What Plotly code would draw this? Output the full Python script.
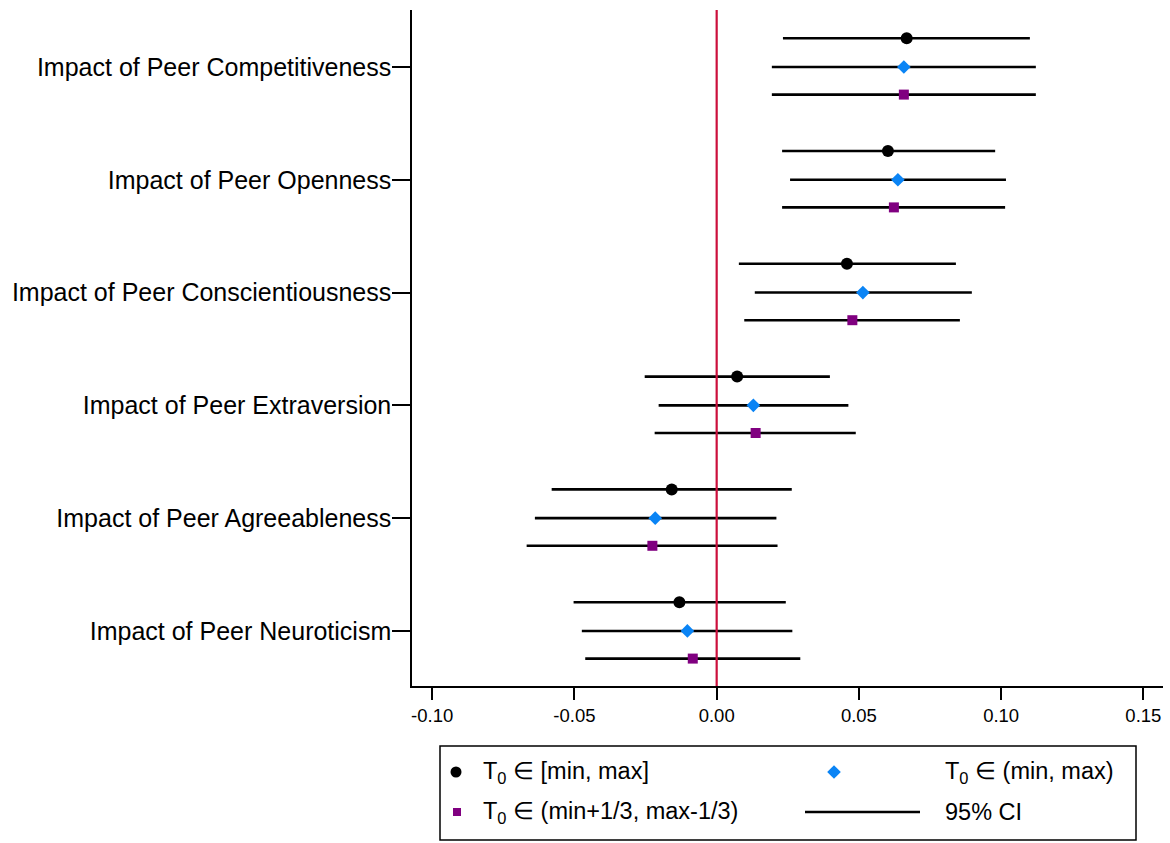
import plotly.graph_objects as go

categories = [
    "Impact of Peer Competitiveness",
    "Impact of Peer Openness",
    "Impact of Peer Conscientiousness",
    "Impact of Peer Extraversion",
    "Impact of Peer Agreeableness",
    "Impact of Peer Neuroticism",
]

# Point estimates and 95% CI bounds, one list per specification
full_est = [0.0668, 0.0602, 0.0458, 0.0072, -0.0158, -0.0131]
full_lo = [0.0233, 0.0230, 0.0078, -0.0253, -0.0580, -0.0503]
full_hi = [0.1101, 0.0979, 0.0841, 0.0398, 0.0264, 0.0243]

open_est = [0.0658, 0.0637, 0.0514, 0.0129, -0.0216, -0.0103]
open_lo = [0.0194, 0.0258, 0.0134, -0.0204, -0.0639, -0.0474]
open_hi = [0.1122, 0.1017, 0.0897, 0.0463, 0.0210, 0.0266]

trim_est = [0.0658, 0.0623, 0.0477, 0.0137, -0.0226, -0.0084]
trim_lo = [0.0194, 0.0230, 0.0097, -0.0218, -0.0668, -0.0462]
trim_hi = [0.1122, 0.1014, 0.0855, 0.0489, 0.0214, 0.0294]

x_ticks = [-0.10, -0.05, 0.00, 0.05, 0.10, 0.15]
x_tick_text = ["-0.10", "-0.05", "0.00", "0.05", "0.10", "0.15"]

legend_labels = [
    "T<sub>0</sub> ∈ [min, max]",
    "T<sub>0</sub> ∈ (min, max)",
    "T<sub>0</sub> ∈ (min+1/3, max-1/3)",
    "95% CI",
]

FONT = "Liberation Sans, Arial, sans-serif"
BLACK = "#000000"
BLUE = "#0A84F5"
PURPLE = "#800080"
RED = "#CC0F3C"

W, H = 1170, 843
M_L, M_R, M_T, M_B = 412, 7, 10, 0
PW, PH = W - M_L - M_R, H - M_T - M_B


def py(pix):
    """screen y pixel -> paper fraction"""
    return 1 - (pix - M_T) / PH


specs = [
    (full_est, full_lo, full_hi, -0.255, "circle", 12, BLACK),
    (open_est, open_lo, open_hi, 0.0, "diamond", 10.5, BLUE),
    (trim_est, trim_lo, trim_hi, 0.245, "square", 10, PURPLE),
]

fig = go.Figure()
for est, lo, hi, off, sym, size, col in specs:
    ys = [i + off for i in range(len(categories))]
    fig.add_trace(go.Scatter(
        x=est, y=ys, mode="markers",
        marker=dict(symbol=sym, size=size, color=col, line=dict(width=0)),
        error_x=dict(
            type="data", symmetric=False,
            array=[h - e for h, e in zip(hi, est)],
            arrayminus=[e - l for e, l in zip(est, lo)],
            color=BLACK, thickness=2.6, width=0,
        ),
        showlegend=False, xaxis="x", yaxis="y",
    ))

# zero reference line
fig.add_shape(type="line", xref="x", yref="y domain", x0=0, x1=0, y0=0, y1=1,
              line=dict(color=RED, width=2.2), layer="above")

# ---- key below the plot, drawn on its own pixel-scaled axes ----
LEG_TOP, LEG_BOT = 746, 840
ROW1, ROW2 = 772, 812
fig.add_trace(go.Scatter(x=[456], y=[ROW1], mode="markers", xaxis="x2", yaxis="y2",
                         marker=dict(symbol="circle", size=11, color=BLACK), showlegend=False))
fig.add_trace(go.Scatter(x=[834], y=[ROW1], mode="markers", xaxis="x2", yaxis="y2",
                         marker=dict(symbol="diamond", size=10.5, color=BLUE), showlegend=False))
fig.add_trace(go.Scatter(x=[457], y=[ROW2], mode="markers", xaxis="x2", yaxis="y2",
                         marker=dict(symbol="square", size=8, color=PURPLE), showlegend=False))
fig.add_trace(go.Scatter(x=[805, 920], y=[ROW2, ROW2], mode="lines", xaxis="x2", yaxis="y2",
                         line=dict(color=BLACK, width=2.6), showlegend=False))

fig.add_shape(type="rect", xref="x2", yref="y2", x0=440, x1=1136, y0=LEG_TOP, y1=LEG_BOT,
              line=dict(color=BLACK, width=1.5), fillcolor="rgba(0,0,0,0)")

for txt, x, y in [(legend_labels[0], 481, ROW1), (legend_labels[1], 943, ROW1),
                  (legend_labels[2], 481, ROW2), (legend_labels[3], 943, ROW2)]:
    fig.add_annotation(text=txt, xref="x2", yref="y2", x=x, y=y, xanchor="left",
                       yanchor="middle", showarrow=False,
                       font=dict(family=FONT, size=23.5, color=BLACK))

main_bottom = py(686)

fig.update_layout(
    width=W, height=H,
    margin=dict(l=M_L, r=M_R, t=M_T, b=M_B, pad=0),
    paper_bgcolor="white", plot_bgcolor="white",
    font=dict(family=FONT, color=BLACK),
    xaxis=dict(
        domain=[0, 1], anchor="y",
        range=[-0.1071, 0.1569],
        tickvals=x_ticks, ticktext=x_tick_text,
        ticks="outside", ticklen=12, tickwidth=1.5, tickcolor=BLACK,
        showline=True, linecolor=BLACK, linewidth=1.5,
        showgrid=False, zeroline=False,
        tickfont=dict(family=FONT, size=18.5, color=BLACK),
    ),
    yaxis=dict(
        domain=[main_bottom, 1], anchor="x",
        range=[5.488, -0.505],
        tickvals=list(range(len(categories))), ticktext=categories,
        ticks="outside", ticklen=18, tickwidth=1.5, tickcolor=BLACK,
        ticklabelstandoff=-4,
        showline=True, linecolor=BLACK, linewidth=1.5,
        showgrid=False, zeroline=False,
        tickfont=dict(family=FONT, size=25, color=BLACK),
    ),
    xaxis2=dict(domain=[0, 1], anchor="y2", range=[M_L, W - M_R], visible=False,
                fixedrange=True),
    yaxis2=dict(domain=[0, py(LEG_TOP - 1)], anchor="x2", range=[H, LEG_TOP - 1],
                visible=False, fixedrange=True),
)

fig.write_html("out.html")
